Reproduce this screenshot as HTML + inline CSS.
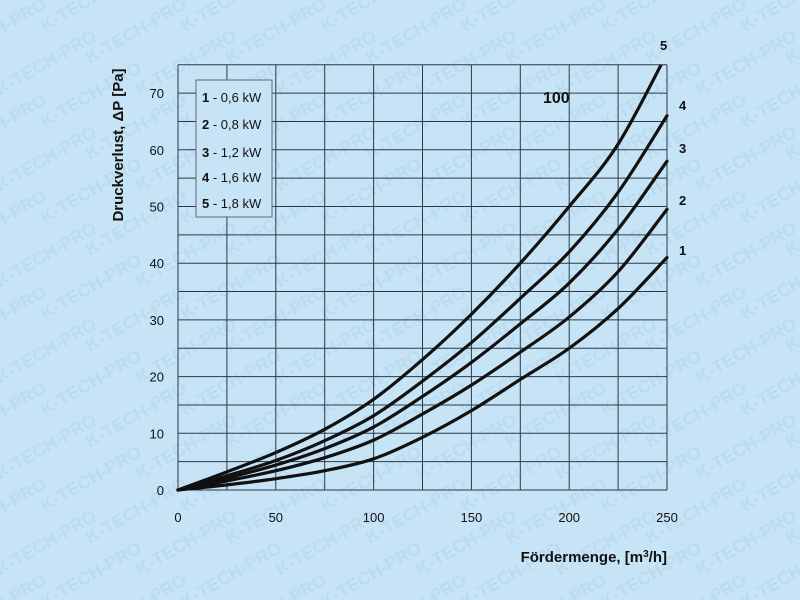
<!DOCTYPE html>
<html><head><meta charset="utf-8"><style>
html,body{margin:0;padding:0;background:#c6e4f6;overflow:hidden;width:800px;height:600px;}
svg{display:block;font-family:"Liberation Sans",sans-serif;}
</style></head><body>
<svg id="s" width="800" height="600" viewBox="0 0 800 600">
<defs>
<clipPath id="pc"><rect x="170" y="64.75" width="510" height="440"/></clipPath>
<clipPath id="fc"><rect x="0" y="0" width="800" height="600"/></clipPath>
</defs>
<rect width="800" height="600" fill="#c6e4f6"/>
<g id="wm" fill="#bcdbef" font-size="18" font-weight="bold" clip-path="url(#fc)"></g>
<g id="grid" stroke="#2a3a4a" stroke-width="1" fill="none"></g>
<g id="curves" stroke="#111" stroke-width="3.2" fill="none" stroke-linecap="round" clip-path="url(#pc)"></g>
<rect x="196" y="80" width="76" height="137" fill="#c6e4f6" stroke="#667" stroke-width="1"/>
<g font-size="13" fill="#111">
<text x="202" y="102"><tspan font-weight="bold">1</tspan> - 0,6 kW</text>
<text x="202" y="129"><tspan font-weight="bold">2</tspan> - 0,8 kW</text>
<text x="202" y="157"><tspan font-weight="bold">3</tspan> - 1,2 kW</text>
<text x="202" y="182"><tspan font-weight="bold">4</tspan> - 1,6 kW</text>
<text x="202" y="208"><tspan font-weight="bold">5</tspan> - 1,8 kW</text>
</g>
<g font-size="13" font-weight="bold" fill="#111">
<text x="660" y="50">5</text><text x="679" y="110">4</text><text x="679" y="153">3</text>
<text x="679" y="205">2</text><text x="679" y="255">1</text>
<text x="543" y="103" font-size="16">100</text>
</g>
<g id="ticks" font-size="13" fill="#111"></g>
<text x="667" y="562" text-anchor="end" font-size="15" font-weight="bold" fill="#111">Fördermenge, [m<tspan font-size="10" dy="-5">3</tspan><tspan dy="5">/h]</tspan></text>
<text transform="translate(123,145) rotate(-90)" text-anchor="middle" font-size="15" font-weight="bold" fill="#111">Druckverlust, ΔP [Pa]</text>
</svg>
<script>
var NS="http://www.w3.org/2000/svg";
function X(v){return 178+v*(489/250);}
function Y(v){return 490-v*5.67;}
function el(t,a,p,txt){var e=document.createElementNS(NS,t);for(var k in a)e.setAttribute(k,a[k]);if(txt!=null)e.textContent=txt;document.getElementById(p).appendChild(e);}
for(var r=0;r<21;r++)for(var c=-1;c<7;c++){var x=c*140+(r%3)*45,y=r*32;el('text',{x:x,y:y,transform:'rotate(-30 '+x+' '+y+')'},'wm','K-TECH-PRO');}
for(var v=0;v<=250;v+=25)el('line',{x1:X(v),y1:Y(0),x2:X(v),y2:Y(75)},'grid');
for(var v=0;v<=75;v+=5)el('line',{x1:X(0),y1:Y(v),x2:X(250),y2:Y(v)},'grid');
for(var v=0;v<=70;v+=10)el('text',{x:164,y:Y(v)+5,'text-anchor':'end'},'ticks',v);
for(var v=0;v<=250;v+=50)el('text',{x:X(v),y:522,'text-anchor':'middle'},'ticks',v);
var xs=[0,25,50,75,100,125,150,175,200,225,250];
var ys=[
[0,0.9,2,3.4,5.5,9.3,14,19.5,25,32,41],
[0,1.6,3.4,5.7,8.8,13.4,18.5,24.3,30.5,38.5,49.5],
[0,2.1,4.4,7.3,11.1,16.5,22.5,29.3,36.5,46,58],
[0,2.5,5.2,8.7,13.1,19.2,26,33.8,42,52.5,66],
[0,3.2,6.6,10.7,16,23,31,40,50,61,77]];
ys.forEach(function(yy){
 var p=xs.map(function(x,i){return [X(x),Y(yy[i])];});
 var s='M'+p[0][0]+','+p[0][1];
 for(var i=0;i<p.length-1;i++){
  var p0=p[i-1]||p[i],p1=p[i],p2=p[i+1],p3=p[i+2]||p2;
  s+=' C'+(p1[0]+(p2[0]-p0[0])/6)+','+(p1[1]+(p2[1]-p0[1])/6)+' '+(p2[0]-(p3[0]-p1[0])/6)+','+(p2[1]-(p3[1]-p1[1])/6)+' '+p2[0]+','+p2[1];
 }
 el('path',{d:s},'curves');
});
</script>
</body></html>
